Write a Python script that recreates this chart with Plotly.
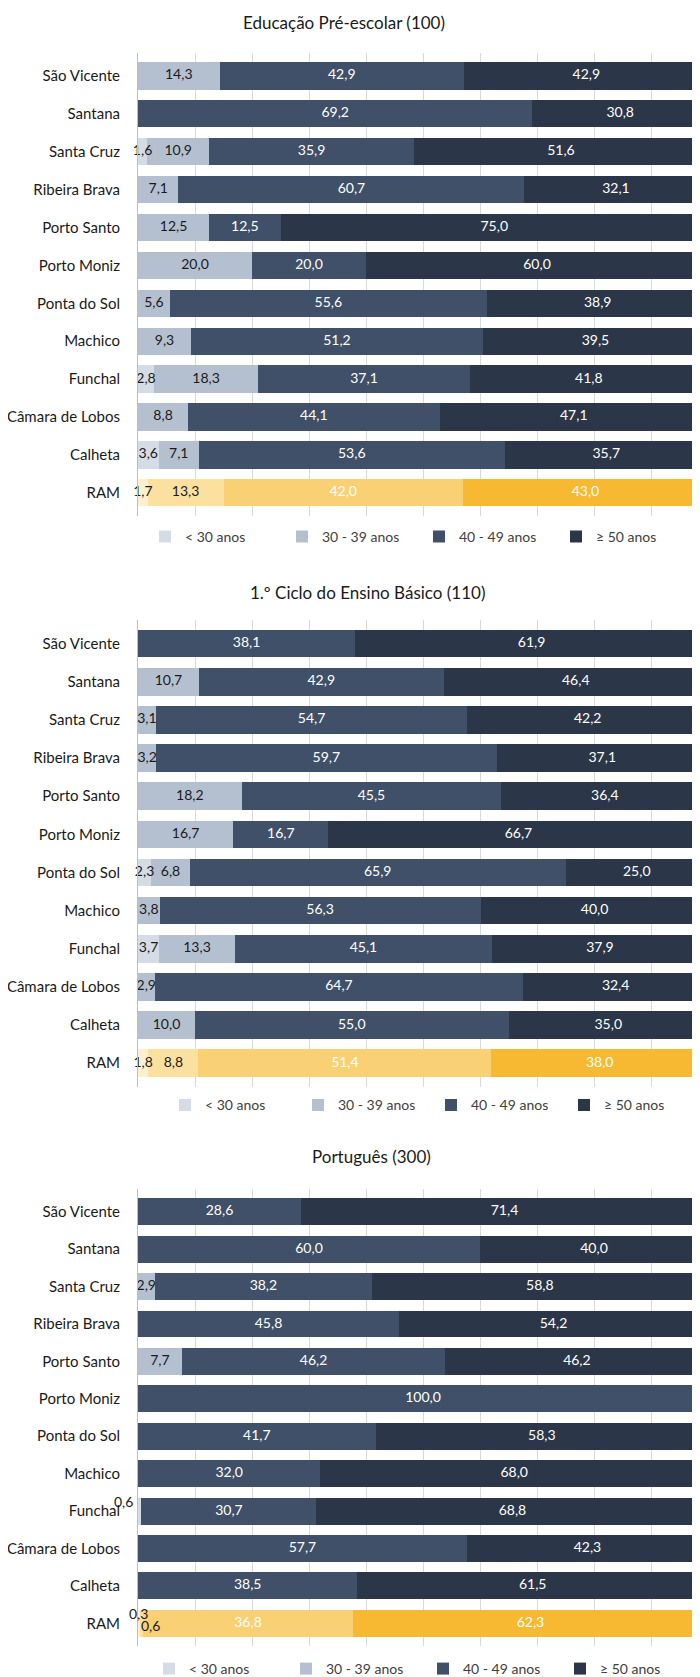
import plotly.graph_objects as go

categories = ["São Vicente", "Santana", "Santa Cruz", "Ribeira Brava", "Porto Santo",
              "Porto Moniz", "Ponta do Sol", "Machico", "Funchal", "Câmara de Lobos",
              "Calheta", "RAM"]
series_names = ["< 30 anos", "30 - 39 anos", "40 - 49 anos", "≥ 50 anos"]
titles = ["Educação Pré-escolar (100)", "1.º Ciclo do Ensino Básico (110)", "Português (300)"]

# Educação Pré-escolar (100)
pre_lt30 = [0, 0, 1.6, 0, 0, 0, 0, 0, 2.8, 0, 3.6, 1.7]
pre_30_39 = [14.3, 0, 10.9, 7.1, 12.5, 20.0, 5.6, 9.3, 18.3, 8.8, 7.1, 13.3]
pre_40_49 = [42.9, 69.2, 35.9, 60.7, 12.5, 20.0, 55.6, 51.2, 37.1, 44.1, 53.6, 42.0]
pre_ge50 = [42.9, 30.8, 51.6, 32.1, 75.0, 60.0, 38.9, 39.5, 41.8, 47.1, 35.7, 43.0]

# 1.º Ciclo do Ensino Básico (110)
cic_lt30 = [0, 0, 0, 0, 0, 0, 2.3, 0, 3.7, 0, 0, 1.8]
cic_30_39 = [0, 10.7, 3.1, 3.2, 18.2, 16.7, 6.8, 3.8, 13.3, 2.9, 10.0, 8.8]
cic_40_49 = [38.1, 42.9, 54.7, 59.7, 45.5, 16.7, 65.9, 56.3, 45.1, 64.7, 55.0, 51.4]
cic_ge50 = [61.9, 46.4, 42.2, 37.1, 36.4, 66.7, 25.0, 40.0, 37.9, 32.4, 35.0, 38.0]

# Português (300)
por_lt30 = [0, 0, 0, 0, 0, 0, 0, 0, 0.6, 0, 0, 0.3]
por_30_39 = [0, 0, 2.9, 0, 7.7, 0, 0, 0, 0, 0, 0, 0.6]
por_40_49 = [28.6, 60.0, 38.2, 45.8, 46.2, 100.0, 41.7, 32.0, 30.7, 57.7, 38.5, 36.8]
por_ge50 = [71.4, 40.0, 58.8, 54.2, 46.2, 0, 58.3, 68.0, 68.8, 42.3, 61.5, 62.3]

charts = [
    [pre_lt30, pre_30_39, pre_40_49, pre_ge50],
    [cic_lt30, cic_30_39, cic_40_49, cic_ge50],
    [por_lt30, por_30_39, por_40_49, por_ge50],
]

W, H = 700, 1677
AX_LEFT = 130
XMAX = 100

base_colors = ["#D6DCE5", "#B4C0D0", "#3F5068", "#2B3648"]
ram_colors = ["#FEF0CE", "#FCE0A0", "#F9D074", "#F6B931"]
text_colors = ["#1A1A1A", "#1A1A1A", "#FFFFFF", "#FFFFFF"]

# pixel layout (from top) of each chart
panels = [
    dict(top=45, bottom=511, title_y=15, title_x=336, legend_y=532, legend_x=137, ew=92),
    dict(top=616, bottom=1085, title_y=588, title_x=360, legend_y=1104, legend_x=157, ew=88),
    dict(top=1188, bottom=1648, title_y=1155, title_x=363, legend_y=1671, legend_x=141, ew=92),
]

FONT = "Lato"
fig = go.Figure()
annotations = []

def fmt(v):
    return f"{v:.1f}".replace(".", ",")

for ci, values in enumerate(charts):
    xa = "x" if ci == 0 else f"x{ci + 1}"
    ya = "y" if ci == 0 else f"y{ci + 1}"
    lg = "legend" if ci == 0 else f"legend{ci + 1}"
    for si, vals in enumerate(values):
        colors = [ram_colors[si] if c == "RAM" else base_colors[si] for c in categories]
        fig.add_trace(go.Bar(
            y=categories, x=vals, orientation="h", name=series_names[si],
            marker=dict(color=colors, line=dict(width=0)),
            xaxis=xa, yaxis=ya, legend=lg, showlegend=True,
            hoverinfo="skip",
        ))
    # data labels drawn above all bars, at the centre of each segment
    starts = [[0.0] * len(categories) for _ in values]
    for ri in range(len(categories)):
        cum = 0.0
        for si, vals in enumerate(values):
            starts[si][ri] = cum
            cum += vals[ri]
    for si, vals in enumerate(values):
        lx, ly, lt = [], [], []
        for ri, cat in enumerate(categories):
            v = vals[ri]
            if v >= 1:
                lx.append(starts[si][ri] + v / 2)
                ly.append(cat)
                lt.append(fmt(v))
        fig.add_trace(go.Scatter(
            x=lx, y=ly, text=lt, mode="text", textposition="middle center",
            textfont=dict(family=FONT, size=14, color=text_colors[si]),
            xaxis=xa, yaxis=ya, showlegend=False, hoverinfo="skip", cliponaxis=False,
        ))
    # tiny values (< 1) labelled next to the bar
    for ri, cat in enumerate(categories):
        for si, vals in enumerate(values):
            v = vals[ri]
            if 0 < v < 1:
                first = (si == 0)
                if first and cat != "RAM":
                    anchor, xs, ys = "right", -3, 10
                elif first:
                    anchor, xs, ys = "center", 0, 10
                else:
                    anchor, xs, ys = "left", -1, -2
                annotations.append(dict(
                    x=starts[si][ri], y=cat, xref=xa, yref=ya,
                    text=fmt(v), showarrow=False,
                    xanchor=anchor, yshift=ys, xshift=xs,
                    font=dict(family=FONT, size=14, color="#1A1A1A"),
                ))

    p = panels[ci]
    dom_y = [1 - p["bottom"] / H, 1 - p["top"] / H]
    xkey = "xaxis" if ci == 0 else f"xaxis{ci + 1}"
    ykey = "yaxis" if ci == 0 else f"yaxis{ci + 1}"
    fig.update_layout(**{
        xkey: dict(domain=[AX_LEFT / W, 1], range=[0, XMAX], anchor=ya,
                   showgrid=True, gridcolor="#D9D9D9", gridwidth=1, dtick=10, tick0=0,
                   showticklabels=False, zeroline=False, showline=False, fixedrange=True),
        ykey: dict(domain=dom_y, anchor=xa, autorange="reversed", type="category",
                   showline=True, linecolor="#BFBFBF", linewidth=1, ticks="",
                   ticklabelstandoff=14, showgrid=False,
                   tickfont=dict(family=FONT, size=15, color="#1A1A1A"), fixedrange=True),
        lg: dict(orientation="h", x=p["legend_x"] / W, xanchor="left",
                 y=1 - p["legend_y"] / H, yanchor="middle", traceorder="normal",
                 font=dict(family=FONT, size=14, color="#404040"),
                 entrywidth=p["ew"], entrywidthmode="pixels", itemclick=False,
                 bgcolor="rgba(0,0,0,0)"),
    })
    annotations.append(dict(
        x=p["title_x"] / W, y=1 - p["title_y"] / H, xref="paper", yref="paper",
        text=titles[ci], showarrow=False, xanchor="center", yanchor="middle",
        font=dict(family=FONT, size=17, color="#1A1A1A"),
    ))

fig.update_layout(
    width=W, height=H, barmode="stack", bargap=0.28,
    margin=dict(l=0, r=0, t=0, b=0),
    plot_bgcolor="white", paper_bgcolor="white",
    annotations=annotations, separators=",.",
    font=dict(family=FONT, color="#1A1A1A"),
)

fig.write_html("out.html")
